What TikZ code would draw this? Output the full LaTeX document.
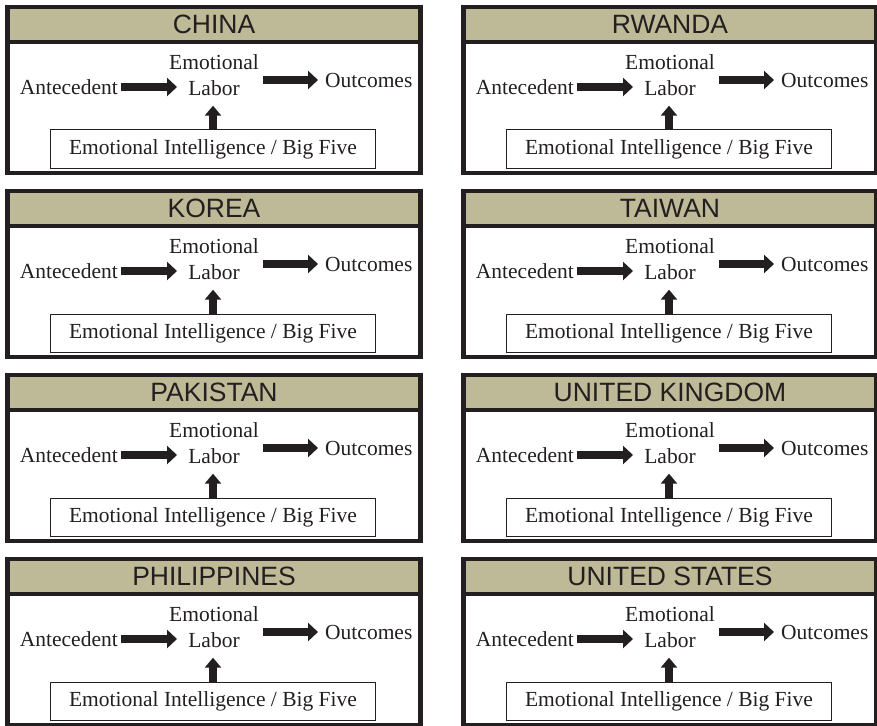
\documentclass[tikz,border=0pt]{standalone}
\usepackage{fontspec}
\setmainfont{Liberation Serif}
\newfontfamily\headfont{Liberation Sans}
\usetikzlibrary{arrows.meta,calc}
\definecolor{ink}{HTML}{231F20}
\definecolor{khaki}{RGB}{190,185,150}
\tikzset{
  frame/.style={draw=ink, line width=4.3bp},
  header/.style={fill=khaki},
  headtext/.style={font=\headfont\fontsize{26.5bp}{30bp}\selectfont, text=ink, inner sep=0pt},
  body/.style={font=\fontsize{21.5bp}{25.8bp}\selectfont, text=ink, inner sep=0pt},
  factorbox/.style={draw=ink, line width=1bp, minimum width=325bp, minimum height=38bp,
    inner sep=0pt, font=\fontsize{21.5bp}{25.8bp}\selectfont, text=ink},
  fat/.style={draw=ink, line width=7.2bp, -{Triangle[length=10bp,width=18bp]}},
  fatup/.style={draw=ink, line width=7.2bp, -{Triangle[length=10bp,width=16bp]}}
}
% one country panel: centre x, top y, title, node prefix
\newcommand{\countrypanel}[4]{%
  \path[header] (#1-206.5,#2) rectangle (#1+206.5,#2+35);
  \draw[frame] (#1-206.5,#2) rectangle (#1+206.5,#2+166);
  \draw[frame] (#1-206.5,#2+35) -- (#1+206.5,#2+35);
  \node[headtext] (#4-title) at (#1,#2+17.5) {#3};
  \node[body, anchor=east] (#4-ante) at (#1-96,#2+80) {Antecedent};
  \node[body, align=center] (#4-el) at (#1,#2+68) {Emotional\\Labor};
  \node[body, anchor=west] (#4-out) at (#1+111,#2+73) {Outcomes};
  \node[factorbox] (#4-bf) at (#1-1,#2+142) {Emotional Intelligence / Big Five};
  \draw[fat] ($(#4-ante.east)+(3,0)$) -- ($(#4-el.west |- #4-ante.east)+(8,0)$);
  \draw[fat] ($(#4-el.east |- #4-out.west)+(4,0)$) -- ($(#4-out.west)+(-7,0)$);
  \draw[fatup] (#4-bf.north) -- ($(#4-el.south -| #4-bf.north)+(0,10)$);
}
\begin{document}
\begin{tikzpicture}[x=1bp,y=-1bp]
  \useasboundingbox (0,0) rectangle (877,726);
  \countrypanel{214}{7}{CHINA}{cn}
  \countrypanel{214}{191}{KOREA}{kr}
  \countrypanel{214}{375}{PAKISTAN}{pk}
  \countrypanel{214}{559}{PHILIPPINES}{ph}
  \countrypanel{670}{7}{RWANDA}{rw}
  \countrypanel{670}{191}{TAIWAN}{tw}
  \countrypanel{670}{375}{UNITED KINGDOM}{uk}
  \countrypanel{670}{559}{UNITED STATES}{us}
\end{tikzpicture}
\end{document}
